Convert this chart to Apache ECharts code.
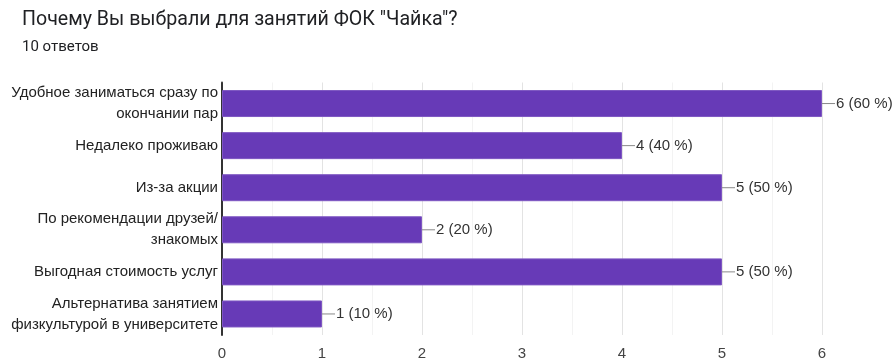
<!DOCTYPE html>
<html>
<head>
<meta charset="utf-8">
<script src="https://cdn.jsdelivr.net/npm/echarts@6/dist/echarts.min.js"></script>
<style>
html,body{margin:0;padding:0;background:#fff;}
#c{width:896px;height:361px;}
</style>
</head>
<body>
<div id="c"></div>
<script>
const titleText = 'Почему Вы выбрали для занятий ФОК "Чайка"?';
const subtitleText = '10 ответов';
const categories = [
  'Удобное заниматься сразу по\nокончании пар',
  'Недалеко проживаю',
  'Из-за акции',
  'По рекомендации друзей/\nзнакомых',
  'Выгодная стоимость услуг',
  'Альтернатива занятием\nфизкультурой в университете'
];
const counts = [6, 4, 5, 2, 5, 1];
const percents = [60, 40, 50, 20, 50, 10];
const xTicks = [0, 1, 2, 3, 4, 5, 6];

const chart = echarts.init(document.getElementById('c'), null, {renderer: 'canvas'});
chart.setOption({
  animation: false,
  title: [
    {text: titleText, left: 17, top: 5, textStyle: {fontFamily: 'Roboto', fontSize: 19.6, fontWeight: 'normal', color: '#202124'}},
    {text: subtitleText, left: 17, top: 35, textStyle: {fontFamily: 'Roboto', fontSize: 15, fontWeight: 'normal', color: '#202124'}}
  ],
  grid: {left: 222, right: 74, top: 82.5, bottom: 22, containLabel: false},
  xAxis: {
    type: 'value', min: xTicks[0], max: xTicks[xTicks.length - 1], interval: 1,
    axisLine: {show: false}, axisTick: {show: false},
    axisLabel: {fontFamily: 'Liberation Sans, Arial', fontSize: 15, color: '#444', margin: 11},
    splitLine: {show: true, lineStyle: {color: '#e3e3e3', width: 1}},
    minorTick: {show: false, splitNumber: 2},
    minorSplitLine: {show: true, lineStyle: {color: '#f3f3f3', width: 1}}
  },
  yAxis: {
    type: 'category', data: categories, inverse: true,
    axisLine: {show: true, lineStyle: {color: '#333', width: 2}},
    axisTick: {show: false},
    axisLabel: {fontFamily: 'Liberation Sans, Arial', fontSize: 15, color: '#222', margin: 4, lineHeight: 21, align: 'right'}
  },
  series: [{
    type: 'bar',
    data: counts,
    barWidth: 27,
    itemStyle: {color: '#673ab7', borderColor: '#7e57c2', borderWidth: 1},
    label: {
      show: true, position: 'right', distance: 0,
      formatter: p => '{l|}{t|' + counts[p.dataIndex] + ' (' + percents[p.dataIndex] + ' %)}',
      rich: {
        l: {width: 13, height: 1, backgroundColor: '#888'},
        t: {fontFamily: 'Liberation Sans, Arial', fontSize: 15, color: '#333', padding: [0, 0, 0, 1]}
      }
    }
  }]
});
</script>
</body>
</html>
